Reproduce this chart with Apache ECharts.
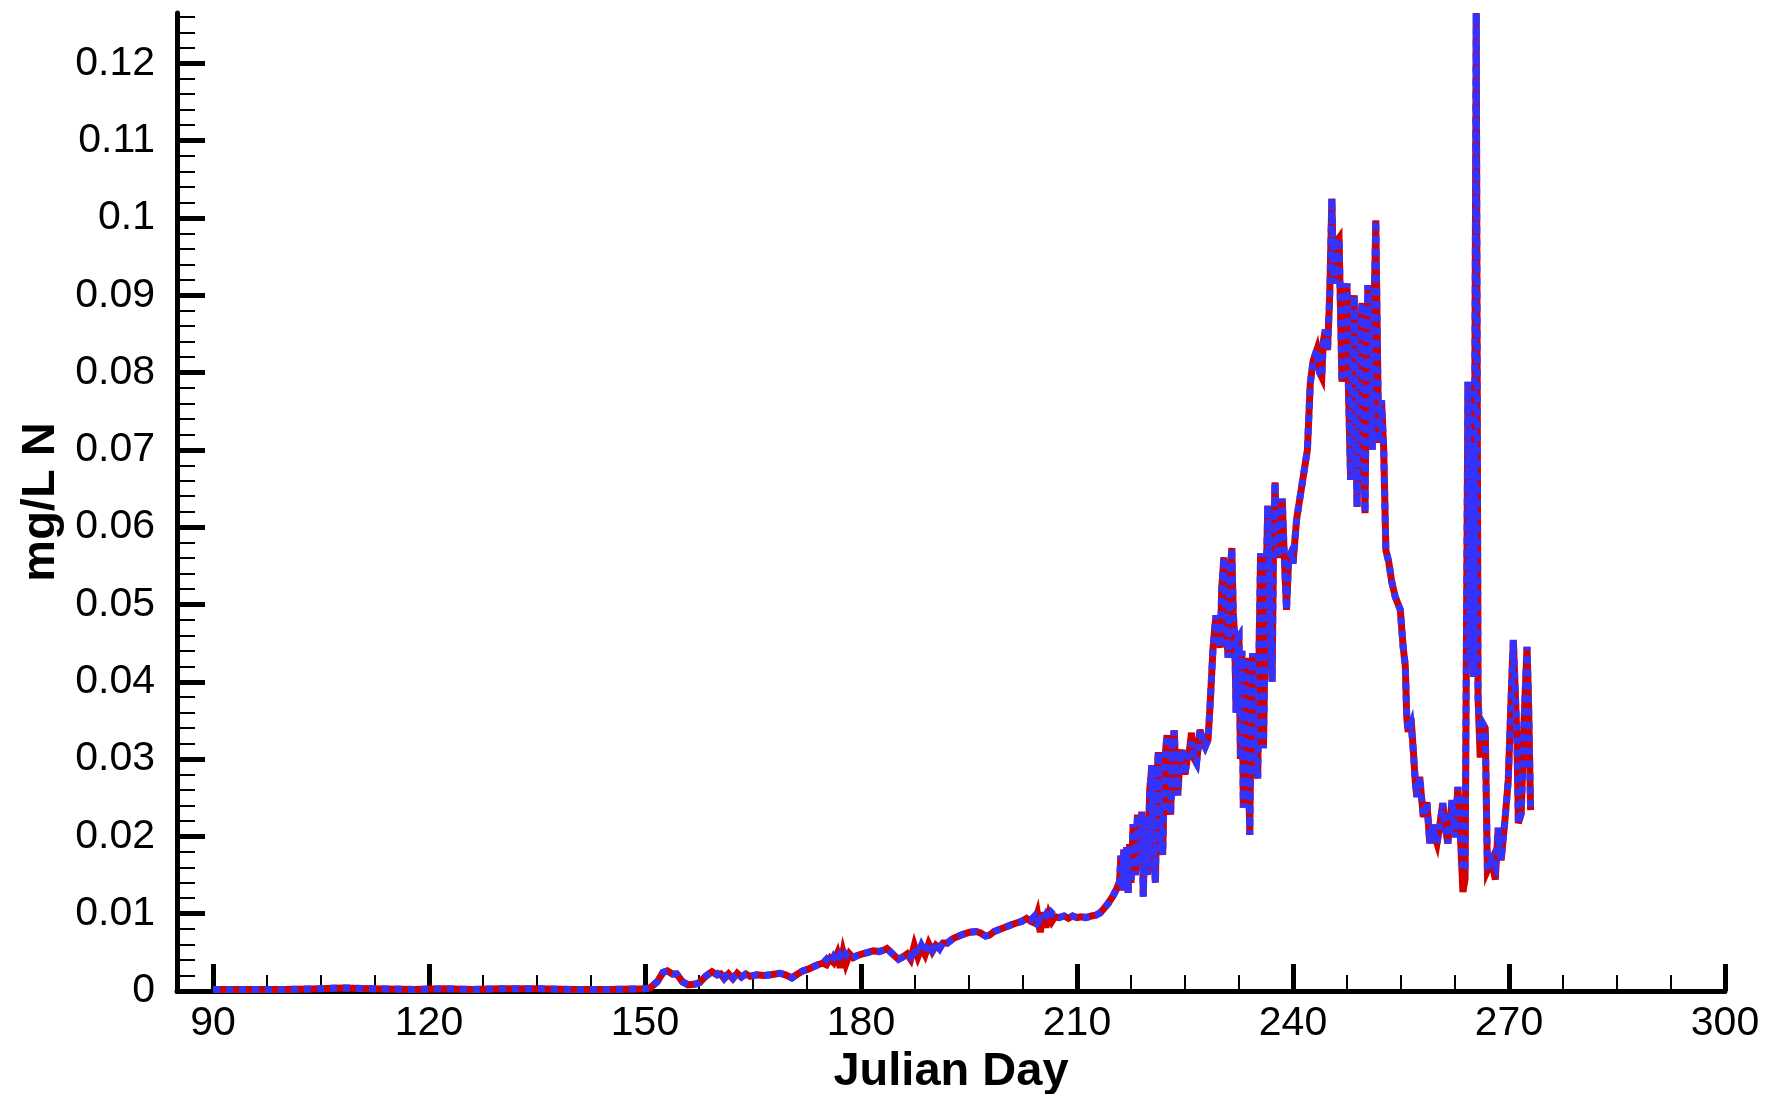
<!DOCTYPE html>
<html>
<head>
<meta charset="utf-8">
<script src="https://cdn.jsdelivr.net/npm/echarts@6/dist/echarts.min.js"></script>
<style>
html,body{margin:0;padding:0;background:#fff;}
#chart{width:1767px;height:1094px;}
</style>
</head>
<body>
<div id="chart"></div>
<script>
const days = [
  90, 95, 100, 105, 108, 112, 118, 122, 126, 130,
  135, 140, 145, 150, 150.7, 151.7, 152.5, 153.1, 153.8, 154.4,
  155.2, 156.0, 157.0, 157.6, 158.4, 159.3, 160.0, 160.5, 161.0, 161.6,
  162.2, 162.8, 163.4, 164.0, 164.6, 165.5, 166.5, 167.5, 168.7, 169.5,
  170.4, 171.2, 171.9, 172.6, 173.3, 174.0, 174.7, 175.2, 175.7, 176.2,
  176.7, 177.1, 177.5, 177.9, 178.4, 178.9, 179.5, 180.2, 181.0, 181.7,
  182.5, 183.2, 183.6, 184.5, 185.2, 185.8, 186.4, 186.9, 187.4, 187.9,
  188.4, 188.9, 189.4, 189.9, 190.4, 190.9, 191.4, 192.0, 192.8, 193.6,
  194.4, 195.1, 196.0, 196.6, 197.3, 197.8, 198.5, 199.3, 200.2, 201.0,
  201.6, 202.3, 203.0, 203.6, 204.1, 204.5, 204.9, 205.3, 205.7, 206.1,
  206.5, 206.9, 207.5, 208.2, 208.8, 209.4, 210.0, 210.6, 211.2, 212.0,
  212.6, 213.2, 213.7, 214.3, 215.0, 215.5, 215.9, 216.1, 216.3, 216.5,
  216.7, 216.9, 217.1, 217.3, 217.5, 217.8, 218.1, 218.4, 218.7, 219.0,
  219.2, 219.5, 219.8, 220.1, 220.4, 220.6, 220.9, 221.1, 221.3, 221.6,
  221.9, 222.2, 222.5, 222.8, 223.0, 223.3, 223.5, 223.8, 224.0, 224.3,
  224.6, 225.0, 225.3, 225.6, 225.9, 226.3, 226.6, 227.1, 227.5, 227.8,
  228.2, 228.5, 228.9, 229.3, 229.6, 229.9, 230.1, 230.4, 230.7, 231.0,
  231.2, 231.5, 231.7, 231.9, 232.1, 232.3, 232.5, 232.7, 232.9, 233.1,
  233.3, 233.6, 233.8, 234.0, 234.2, 234.4, 234.7, 235.1, 235.3, 235.5,
  235.7, 235.9, 236.2, 236.5, 236.8, 237.1, 237.3, 237.5, 237.7, 237.9,
  238.2, 238.5, 238.8, 239.1, 239.4, 239.7, 240.0, 240.5, 241.2, 242.0,
  242.4, 242.8, 243.3, 243.7, 244.0, 244.2, 244.5, 244.8, 245.1, 245.4,
  245.6, 245.8, 246.1, 246.4, 246.6, 246.8, 247.0, 247.2, 247.5, 247.7,
  248.0, 248.2, 248.5, 248.7, 248.9, 249.1, 249.4, 249.6, 249.8, 250.0,
  250.2, 250.4, 250.7, 251.0, 251.2, 251.5, 251.7, 251.9, 252.3, 252.6,
  252.9, 253.3, 253.7, 254.2, 254.9, 255.3, 255.6, 255.8, 256.0, 256.4,
  256.7, 257.0, 257.2, 257.6, 258.1, 258.6, 259.0, 259.4, 259.7, 260.0,
  260.4, 260.8, 261.1, 261.5, 261.8, 262.1, 262.5, 262.9, 263.2, 263.6,
  263.9, 264.3, 264.6, 265.0, 265.1, 265.45, 265.7, 266.0, 266.4, 266.7,
  267.0, 267.6, 268.1, 268.5, 268.9, 269.4, 269.9, 270.3, 270.6, 270.9,
  271.1, 271.3, 271.7, 272.1, 272.5, 272.7, 273.0
];

const redValues = [
  0.0002, 0.0002, 0.0002, 0.0003, 0.0004, 0.0003, 0.0002, 0.0003, 0.0002, 0.0003,
  0.0003, 0.0002, 0.0002, 0.0003, 0.0004, 0.0012, 0.0024, 0.0026, 0.0022, 0.0022,
  0.0012, 0.0008, 0.0009, 0.0011, 0.0019, 0.0025, 0.0021, 0.0022, 0.0016, 0.0022,
  0.0016, 0.0023, 0.0018, 0.0022, 0.0019, 0.0021, 0.0020, 0.0021, 0.0023, 0.0021,
  0.0017, 0.0022, 0.0026, 0.0028, 0.0031, 0.0034, 0.0036, 0.0034, 0.0042, 0.0037,
  0.0048, 0.0030, 0.0050, 0.0035, 0.0048, 0.0043, 0.0046, 0.0048, 0.0050, 0.0052,
  0.0051, 0.0053, 0.0055, 0.0047, 0.0041, 0.0044, 0.0048, 0.0041, 0.0059, 0.0044,
  0.0056, 0.0047, 0.0061, 0.0051, 0.0059, 0.0055, 0.0062, 0.0062, 0.0068, 0.0071,
  0.0074, 0.0076, 0.0077, 0.0075, 0.0071, 0.0072, 0.0077, 0.0080, 0.0083, 0.0086,
  0.0088, 0.0090, 0.0094, 0.0090, 0.0088, 0.0100, 0.0076, 0.0102, 0.0082, 0.0099,
  0.0090, 0.0096, 0.0095, 0.0097, 0.0094, 0.0097, 0.0095, 0.0096, 0.0095, 0.0097,
  0.0098, 0.0101, 0.0106, 0.0113, 0.0123, 0.0132, 0.0141, 0.0175, 0.0130, 0.0183,
  0.0139, 0.0186, 0.0127, 0.0190, 0.0140, 0.0216, 0.0150, 0.0228, 0.0162, 0.0232,
  0.0122, 0.0225, 0.0150, 0.0260, 0.0292, 0.0180, 0.0140, 0.0280, 0.0309, 0.0200,
  0.0176, 0.0300, 0.0331, 0.0250, 0.0228, 0.0320, 0.0337, 0.0270, 0.0253, 0.0300,
  0.0312, 0.0280, 0.0300, 0.0310, 0.0334, 0.0300, 0.0295, 0.0338, 0.0322, 0.0316,
  0.0325, 0.0372, 0.0445, 0.0486, 0.0460, 0.0444, 0.0520, 0.0561, 0.0470, 0.0431,
  0.0520, 0.0573, 0.0490, 0.0458, 0.0360, 0.0455, 0.0458, 0.0300, 0.0440, 0.0237,
  0.0400, 0.0431, 0.0300, 0.0202, 0.0380, 0.0437, 0.0300, 0.0275, 0.0450, 0.0566,
  0.0420, 0.0314, 0.0500, 0.0628, 0.0480, 0.0400, 0.0580, 0.0658, 0.0600, 0.0560,
  0.0600, 0.0637, 0.0560, 0.0493, 0.0560, 0.0566, 0.0553, 0.0610, 0.0652, 0.0700,
  0.0786, 0.0815, 0.0829, 0.0800, 0.0794, 0.0840, 0.0855, 0.0829, 0.0900, 0.1025,
  0.0930, 0.0915, 0.0970, 0.0974, 0.0880, 0.0788, 0.0850, 0.0900, 0.0915, 0.0780,
  0.0661, 0.0800, 0.0900, 0.0750, 0.0626, 0.0750, 0.0860, 0.0890, 0.0720, 0.0618,
  0.0800, 0.0913, 0.0800, 0.0700, 0.0850, 0.0997, 0.0850, 0.0709, 0.0764, 0.0700,
  0.0570, 0.0555, 0.0530, 0.0510, 0.0493, 0.0445, 0.0420, 0.0354, 0.0335, 0.0353,
  0.0312, 0.0269, 0.0251, 0.0277, 0.0225, 0.0244, 0.0191, 0.0215, 0.0200, 0.0191,
  0.0215, 0.0243, 0.0215, 0.0191, 0.0220, 0.0247, 0.0199, 0.0264, 0.0210, 0.0128,
  0.0145, 0.0788, 0.0420, 0.0700, 0.0406, 0.1265, 0.0380, 0.0302, 0.0345, 0.0340,
  0.0156, 0.0169, 0.0144, 0.0211, 0.0169, 0.0217, 0.0273, 0.0380, 0.0454, 0.0380,
  0.0328, 0.0217, 0.0230, 0.0350, 0.0445, 0.0380, 0.0234
];

const blueValues = [
  0.0002, 0.0002, 0.0002, 0.0003, 0.0004, 0.0003, 0.0002, 0.0003, 0.0002, 0.0003,
  0.0003, 0.0002, 0.0002, 0.0003, 0.0004, 0.0012, 0.0024, 0.0026, 0.0022, 0.0022,
  0.0012, 0.0008, 0.0009, 0.0011, 0.0019, 0.0025, 0.0021, 0.0025, 0.0017, 0.0024,
  0.0017, 0.0023, 0.0018, 0.0022, 0.0019, 0.0021, 0.0020, 0.0021, 0.0023, 0.0021,
  0.0017, 0.0022, 0.0026, 0.0028, 0.0031, 0.0034, 0.0036, 0.0041, 0.0035, 0.0044,
  0.0037, 0.0046, 0.0040, 0.0047, 0.0041, 0.0043, 0.0046, 0.0048, 0.0050, 0.0052,
  0.0051, 0.0053, 0.0055, 0.0047, 0.0041, 0.0044, 0.0048, 0.0044, 0.0056, 0.0047,
  0.0059, 0.0050, 0.0060, 0.0053, 0.0061, 0.0055, 0.0064, 0.0062, 0.0068, 0.0071,
  0.0074, 0.0076, 0.0077, 0.0075, 0.0071, 0.0072, 0.0077, 0.0080, 0.0083, 0.0086,
  0.0088, 0.0090, 0.0094, 0.0092, 0.0097, 0.0088, 0.0093, 0.0090, 0.0098, 0.0091,
  0.0101, 0.0097, 0.0095, 0.0097, 0.0094, 0.0097, 0.0095, 0.0096, 0.0095, 0.0097,
  0.0098, 0.0101, 0.0106, 0.0113, 0.0123, 0.0132, 0.0141, 0.0175, 0.0130, 0.0183,
  0.0139, 0.0186, 0.0127, 0.0190, 0.0140, 0.0216, 0.0150, 0.0228, 0.0162, 0.0232,
  0.0122, 0.0225, 0.0150, 0.0260, 0.0292, 0.0180, 0.0140, 0.0280, 0.0309, 0.0200,
  0.0176, 0.0300, 0.0331, 0.0250, 0.0228, 0.0320, 0.0337, 0.0270, 0.0253, 0.0300,
  0.0312, 0.0280, 0.0300, 0.0310, 0.0322, 0.0300, 0.0295, 0.0338, 0.0322, 0.0316,
  0.0325, 0.0372, 0.0445, 0.0486, 0.0460, 0.0444, 0.0520, 0.0561, 0.0470, 0.0431,
  0.0520, 0.0573, 0.0490, 0.0458, 0.0360, 0.0455, 0.0458, 0.0300, 0.0440, 0.0237,
  0.0400, 0.0431, 0.0300, 0.0202, 0.0380, 0.0437, 0.0300, 0.0275, 0.0450, 0.0566,
  0.0420, 0.0314, 0.0500, 0.0628, 0.0480, 0.0400, 0.0580, 0.0658, 0.0600, 0.0560,
  0.0600, 0.0637, 0.0560, 0.0493, 0.0560, 0.0566, 0.0553, 0.0610, 0.0652, 0.0700,
  0.0786, 0.0815, 0.0829, 0.0800, 0.0794, 0.0840, 0.0855, 0.0829, 0.0900, 0.1025,
  0.0930, 0.0915, 0.0970, 0.0974, 0.0880, 0.0788, 0.0850, 0.0900, 0.0915, 0.0780,
  0.0661, 0.0800, 0.0900, 0.0750, 0.0626, 0.0750, 0.0860, 0.0890, 0.0720, 0.0618,
  0.0800, 0.0913, 0.0800, 0.0700, 0.0850, 0.0997, 0.0850, 0.0709, 0.0764, 0.0700,
  0.0570, 0.0555, 0.0530, 0.0510, 0.0493, 0.0445, 0.0420, 0.0354, 0.0335, 0.0345,
  0.0312, 0.0269, 0.0251, 0.0277, 0.0225, 0.0244, 0.0191, 0.0215, 0.0200, 0.0191,
  0.0215, 0.0243, 0.0215, 0.0191, 0.0220, 0.0247, 0.0199, 0.0264, 0.0210, 0.0155,
  0.0160, 0.0788, 0.0420, 0.0700, 0.0406, 0.1265, 0.0380, 0.0320, 0.0345, 0.0340,
  0.0156, 0.0169, 0.0160, 0.0211, 0.0169, 0.0217, 0.0273, 0.0380, 0.0454, 0.0380,
  0.0328, 0.0217, 0.0230, 0.0350, 0.0445, 0.0380, 0.0234
];

const xTicks = [90, 120, 150, 180, 210, 240, 270, 300];
const yTicks = [0, 0.01, 0.02, 0.03, 0.04, 0.05, 0.06, 0.07, 0.08, 0.09, 0.1, 0.11, 0.12];
const xMin = 85, xMax = 300, yMin = 0, yMax = 0.1265;

// minor tick positions: 4 sub-divisions on x (7.5 d), 5 on y (0.002)
const xMinor = [];
for (let i = 0; i < xTicks.length - 1; i++) {
  const step = (xTicks[i + 1] - xTicks[i]) / 4;
  for (let k = 1; k < 4; k++) xMinor.push(xTicks[i] + k * step);
}
const yMinor = [];
for (let i = 1; i * 0.002 <= yMax + 1e-9; i++) {
  if (i % 5 !== 0) yMinor.push(+(i * 0.002).toFixed(4));
}

const redData = days.map((d, i) => [d, redValues[i]]);
const blueData = days.map((d, i) => [d, blueValues[i]]);

const FONT = '"Liberation Sans", Arial, Helvetica, sans-serif';

const chart = echarts.init(document.getElementById('chart'), null, {renderer: 'canvas'});
chart.setOption({
  animation: false,
  backgroundColor: '#ffffff',
  grid: {left: 177, right: 42, top: 13, bottom: 103, containLabel: false, outerBoundsMode: 'none'},
  xAxis: [{
    type: 'value', min: xMin, max: xMax,
    name: 'Julian Day', nameLocation: 'middle', nameGap: 42,
    nameTextStyle: {fontFamily: FONT, fontSize: 47, fontWeight: 'bold', color: '#000'},
    axisLine: {show: true, onZero: false, lineStyle: {color: '#000', width: 5}},
    axisTick: {show: true, inside: true, length: 27, lineStyle: {color: '#000', width: 5}, customValues: xTicks},
    axisLabel: {show: true, margin: 12, fontFamily: FONT, fontSize: 41, color: '#000', customValues: xTicks,
      formatter: v => String(v)},
    splitLine: {show: false}, minorTick: {show: false}
  }, {
    type: 'value', min: xMin, max: xMax, position: 'bottom', gridIndex: 0,
    axisLine: {show: false},
    axisTick: {show: true, inside: true, length: 16, lineStyle: {color: '#000', width: 2}, customValues: xMinor},
    axisLabel: {show: false}, splitLine: {show: false}
  }],
  yAxis: [{
    type: 'value', min: yMin, max: yMax,
    name: 'mg/L N', nameLocation: 'middle', nameGap: 112, nameRotate: 90,
    nameTextStyle: {fontFamily: FONT, fontSize: 47, fontWeight: 'bold', color: '#000'},
    axisLine: {show: true, onZero: false, lineStyle: {color: '#000', width: 5}},
    axisTick: {show: true, inside: true, length: 28, lineStyle: {color: '#000', width: 5}, customValues: yTicks},
    axisLabel: {show: true, margin: 22, fontFamily: FONT, fontSize: 41, color: '#000', customValues: yTicks,
      formatter: v => String(+v.toFixed(3))},
    splitLine: {show: false}
  }, {
    type: 'value', min: yMin, max: yMax, position: 'left', gridIndex: 0,
    axisLine: {show: false},
    axisTick: {show: true, inside: true, length: 18, lineStyle: {color: '#000', width: 2}, customValues: yMinor},
    axisLabel: {show: false}, splitLine: {show: false}
  }],
  series: [{
    type: 'line', name: 'red', data: redData, xAxisIndex: 0, yAxisIndex: 0,
    showSymbol: false, symbol: 'none', smooth: false,
    lineStyle: {color: '#d40000', width: 7, cap: 'butt', join: 'miter', miterLimit: 5},
    z: 2
  }, {
    type: 'line', name: 'blue', data: blueData, xAxisIndex: 0, yAxisIndex: 0,
    showSymbol: false, symbol: 'none', smooth: false,
    lineStyle: {color: '#3333ff', width: 7, type: [7, 6], cap: 'butt', join: 'miter', miterLimit: 5},
    z: 3
  }]
});
</script>
</body>
</html>
